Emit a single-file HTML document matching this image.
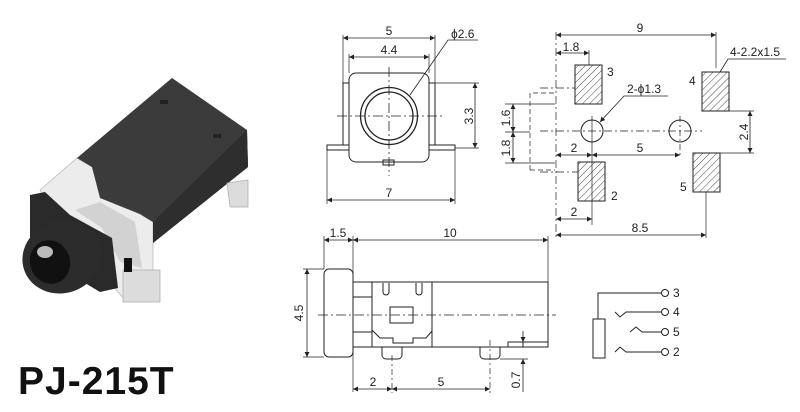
<!DOCTYPE html>
<html><head><meta charset="utf-8"><style>
html,body{margin:0;padding:0;background:#fff;}
svg{display:block;}
text{font-family:"Liberation Sans",Arial,sans-serif;font-size:12px;fill:#222;}
</style></head><body>
<svg width="800" height="412" viewBox="0 0 800 412" xmlns="http://www.w3.org/2000/svg">
<defs>
<marker id="a" viewBox="0 0 10 10" refX="10" refY="5" markerWidth="7" markerHeight="5" orient="auto-start-reverse" markerUnits="userSpaceOnUse"><path d="M0,0 L10,5 L0,10 z" fill="#222"/></marker>
<pattern id="h" width="5" height="5" patternUnits="userSpaceOnUse" patternTransform="rotate(45)"><line x1="0" y1="0" x2="0" y2="5" stroke="#333" stroke-width="0.9"/></pattern>
</defs>

<!-- Photo -->
<g>
<polygon points="40,190 77,158 92,167 102,198 140,214 153,222 153,290 125,300 112,285 60,230" fill="#ececec" stroke="#bbb" stroke-width="0.8"/>
<polygon points="75,210 100,202 135,222 142,268 120,262 102,228" fill="#d2d2d2"/>
<polygon points="77,158 172,78 247,130 248,167 153,243 153,222 140,214 100,198 92,167" fill="#3b3b3b"/>
<polygon points="153,222 247,130 248,167 153,243" fill="#2e2e2e"/>
<polygon points="123,270 160,270 160,302 123,302" fill="#dcdcdc" stroke="#aaa" stroke-width="0.7"/>
<polygon points="227,183 248,180 248,207 230,207" fill="#dcdcdc" stroke="#aaa" stroke-width="0.7"/>
<polygon points="30,195 45,192 70,215 112,238 118,288 100,292 30,250" fill="#2a2a2a"/>
<ellipse cx="62" cy="257" rx="40" ry="36" transform="rotate(-20 62 257)" fill="#2c2c2c"/>
<ellipse cx="50" cy="262" rx="20" ry="22" transform="rotate(-20 50 262)" fill="#111"/>
<ellipse cx="45" cy="252" rx="8" ry="6" fill="#bbb"/>
<rect x="124" y="258" width="8" height="14" fill="#111"/>
<rect x="160" y="100" width="8" height="4" fill="#222"/>
<rect x="213" y="134" width="8" height="4" fill="#222"/>
</g>
<text x="18" y="394" style="font-size:39px;font-weight:bold;fill:#111;letter-spacing:1px">PJ-215T</text>

<g fill="none" stroke="#222" stroke-width="1">
<!-- Front view -->
<rect x="343" y="83" width="6" height="62"/>
<rect x="429" y="83" width="6" height="62"/>
<rect x="327" y="145" width="22" height="5"/>
<rect x="429" y="145" width="26" height="5"/>
<rect x="349" y="73" width="80" height="89" rx="7" fill="#fff"/>
<rect x="383" y="160" width="11" height="5"/>
<circle cx="389" cy="116" r="28.5" stroke-width="1.3"/>
<circle cx="389" cy="116" r="24" stroke-width="1.3"/>
<line x1="337" y1="116" x2="443" y2="116" stroke-dasharray="10,3,2,3" stroke-width="0.8"/>
<line x1="389" y1="67" x2="389" y2="176" stroke-dasharray="10,3,2,3" stroke-width="0.8"/>
<line x1="343" y1="35" x2="343" y2="83" stroke-width="0.7"/>
<line x1="435" y1="35" x2="435" y2="83" stroke-width="0.7"/>
<line x1="349" y1="54" x2="349" y2="73" stroke-width="0.7"/>
<line x1="429" y1="54" x2="429" y2="73" stroke-width="0.7"/>
<line x1="343" y1="38" x2="435" y2="38" marker-start="url(#a)" marker-end="url(#a)" stroke-width="0.8"/>
<line x1="349" y1="57" x2="429" y2="57" marker-start="url(#a)" marker-end="url(#a)" stroke-width="0.8"/>
<polyline points="410,95 448,40 478,40" stroke-width="0.8"/>
<line x1="435" y1="83" x2="479" y2="83" stroke-width="0.7"/>
<line x1="455" y1="148" x2="479" y2="148" stroke-width="0.7"/>
<line x1="475" y1="83" x2="475" y2="148" marker-start="url(#a)" marker-end="url(#a)" stroke-width="0.8"/>
<line x1="327" y1="150" x2="327" y2="204" stroke-width="0.7"/>
<line x1="455" y1="150" x2="455" y2="204" stroke-width="0.7"/>
<line x1="327" y1="200" x2="455" y2="200" marker-start="url(#a)" marker-end="url(#a)" stroke-width="0.8"/>

<!-- Footprint -->
<polyline points="530,170 530,93 555,93" stroke-dasharray="5,3" stroke-width="0.7"/>
<line x1="530" y1="170" x2="555" y2="170" stroke-dasharray="5,3" stroke-width="0.7"/>
<line x1="505" y1="104" x2="555" y2="104" stroke-width="0.7"/>
<line x1="505" y1="132" x2="530" y2="132" stroke-width="0.7"/>
<line x1="505" y1="163" x2="555" y2="163" stroke-width="0.7"/>
<line x1="513" y1="104" x2="513" y2="132" marker-start="url(#a)" marker-end="url(#a)" stroke-width="0.8"/>
<line x1="513" y1="132" x2="513" y2="163" marker-start="url(#a)" marker-end="url(#a)" stroke-width="0.8"/>
<line x1="540" y1="88" x2="575" y2="88" stroke-dasharray="8,3,2,3" stroke-width="0.7"/>
<line x1="540" y1="172" x2="578" y2="172" stroke-dasharray="8,3,2,3" stroke-width="0.7"/>
<line x1="556" y1="32" x2="556" y2="240" stroke-dasharray="8,3,2,3" stroke-width="0.7"/>
<line x1="716" y1="32" x2="716" y2="68" stroke-width="0.7"/>
<line x1="556" y1="35" x2="716" y2="35" marker-start="url(#a)" marker-end="url(#a)" stroke-width="0.8"/>
<line x1="589" y1="50" x2="589" y2="65" stroke-width="0.7"/>
<line x1="556" y1="53" x2="589" y2="53" marker-start="url(#a)" marker-end="url(#a)" stroke-width="0.8"/>
<rect x="575" y="65" width="27" height="39" fill="url(#h)"/>
<rect x="702" y="72" width="27" height="39" fill="url(#h)"/>
<rect x="578" y="162" width="27" height="39" fill="url(#h)"/>
<rect x="693" y="153" width="27" height="39" fill="url(#h)"/>
<polyline points="720,72 728,59 786,59" stroke-width="0.8"/>
<circle cx="592" cy="131" r="11"/>
<circle cx="680" cy="131" r="11"/>
<polyline points="600,122 624,96 668,96" stroke-width="0.8" marker-start="url(#a)"/>
<line x1="540" y1="131" x2="702" y2="131" stroke-dasharray="8,3,2,3" stroke-width="0.7"/>
<line x1="592" y1="116" x2="592" y2="225" stroke-width="0.7"/>
<line x1="680" y1="116" x2="680" y2="158" stroke-dasharray="6,3,2,3" stroke-width="0.7"/>
<line x1="556" y1="155" x2="592" y2="155" marker-start="url(#a)" marker-end="url(#a)" stroke-width="0.8"/>
<line x1="592" y1="155" x2="680" y2="155" marker-start="url(#a)" marker-end="url(#a)" stroke-width="0.8"/>
<line x1="729" y1="111" x2="754" y2="111" stroke-width="0.7"/>
<line x1="720" y1="153" x2="754" y2="153" stroke-width="0.7"/>
<line x1="750" y1="111" x2="750" y2="153" marker-start="url(#a)" marker-end="url(#a)" stroke-width="0.8"/>
<line x1="556" y1="219" x2="592" y2="219" marker-start="url(#a)" marker-end="url(#a)" stroke-width="0.8"/>
<line x1="706" y1="192" x2="706" y2="238" stroke-width="0.7"/>
<line x1="556" y1="235" x2="706" y2="235" marker-start="url(#a)" marker-end="url(#a)" stroke-width="0.8"/>

<!-- Side view -->
<rect x="324" y="269" width="29" height="88" rx="5"/>
<rect x="353" y="282" width="195" height="65"/>
<line x1="372" y1="282" x2="372" y2="347"/>
<line x1="432" y1="282" x2="432" y2="347"/>
<line x1="353" y1="297" x2="372" y2="297"/>
<line x1="353" y1="332" x2="372" y2="332"/>
<rect x="390" y="307" width="23" height="16"/>
<path d="M383,283 V292 a3,3 0 0 0 6,0 V283 M416,283 V292 a3,3 0 0 0 6,0 V283"/>
<polyline points="372,330 380,338 393,338 393,343 413,343 413,338 426,338 432,331"/>
<path d="M382,347 V355 a4,4 0 0 0 4,4 H398 a4,4 0 0 0 4,-4 V347"/>
<path d="M480,347 V355 a4,4 0 0 0 4,4 H496 a4,4 0 0 0 4,-4 V347"/>
<polyline points="508,347 508,342 548,342"/>
<line x1="523" y1="342" x2="523" y2="347"/>
<line x1="318" y1="315" x2="556" y2="315" stroke-dasharray="10,3,2,3" stroke-width="0.7"/>
<line x1="324" y1="236" x2="324" y2="269" stroke-width="0.7"/>
<line x1="353" y1="236" x2="353" y2="392" stroke-width="0.7"/>
<line x1="548" y1="236" x2="548" y2="282" stroke-width="0.7"/>
<line x1="324" y1="240" x2="353" y2="240" marker-start="url(#a)" marker-end="url(#a)" stroke-width="0.8"/>
<line x1="353" y1="240" x2="548" y2="240" marker-start="url(#a)" marker-end="url(#a)" stroke-width="0.8"/>
<line x1="303" y1="269" x2="324" y2="269" stroke-width="0.7"/>
<line x1="303" y1="357" x2="324" y2="357" stroke-width="0.7"/>
<line x1="307" y1="269" x2="307" y2="357" marker-start="url(#a)" marker-end="url(#a)" stroke-width="0.8"/>
<line x1="392" y1="355" x2="392" y2="393" stroke-dasharray="6,3,2,3" stroke-width="0.7"/>
<line x1="490" y1="340" x2="490" y2="393" stroke-dasharray="6,3,2,3" stroke-width="0.7"/>
<line x1="353" y1="389" x2="392" y2="389" marker-start="url(#a)" marker-end="url(#a)" stroke-width="0.8"/>
<line x1="392" y1="389" x2="490" y2="389" marker-start="url(#a)" marker-end="url(#a)" stroke-width="0.8"/>
<line x1="500" y1="359" x2="528" y2="359" stroke-width="0.7"/>
<line x1="523" y1="331" x2="523" y2="342" marker-end="url(#a)" stroke-width="0.8"/>
<line x1="523" y1="392" x2="523" y2="359" marker-end="url(#a)" stroke-width="0.8"/>

<!-- Schematic -->
<polyline points="598,319 598,293 662,293"/>
<rect x="593" y="319" width="12" height="39"/>
<polyline points="615,312 620,317 626,312 662,312"/>
<polyline points="630,332 636,327 642,332 662,332"/>
<polyline points="615,352 620,347 626,352 662,352"/>
<circle cx="665" cy="293" r="3.5"/>
<circle cx="665" cy="312" r="3.5"/>
<circle cx="665" cy="332" r="3.5"/>
<circle cx="665" cy="352" r="3.5"/>
</g>

<!-- labels -->
<text x="389" y="35" text-anchor="middle">5</text>
<text x="389" y="54" text-anchor="middle">4.4</text>
<text x="451" y="38">ϕ2.6</text>
<text transform="translate(473,116) rotate(-90)" text-anchor="middle">3.3</text>
<text x="389" y="197" text-anchor="middle">7</text>
<text transform="translate(510,118) rotate(-90)" text-anchor="middle">1.6</text>
<text transform="translate(510,148) rotate(-90)" text-anchor="middle">1.8</text>
<text x="640" y="32" text-anchor="middle">9</text>
<text x="571" y="51" text-anchor="middle">1.8</text>
<text x="607" y="76">3</text>
<text x="689" y="85">4</text>
<text x="730" y="56">4-2.2x1.5</text>
<text x="627" y="93">2-ϕ1.3</text>
<text x="574" y="152" text-anchor="middle">2</text>
<text x="640" y="152" text-anchor="middle">5</text>
<text transform="translate(748,132) rotate(-90)" text-anchor="middle">2.4</text>
<text x="611" y="200">2</text>
<text x="680" y="191">5</text>
<text x="574" y="216" text-anchor="middle">2</text>
<text x="640" y="232" text-anchor="middle">8.5</text>
<text x="338" y="237" text-anchor="middle">1.5</text>
<text x="450" y="237" text-anchor="middle">10</text>
<text transform="translate(303,313) rotate(-90)" text-anchor="middle">4.5</text>
<text x="373" y="386" text-anchor="middle">2</text>
<text x="441" y="386" text-anchor="middle">5</text>
<text transform="translate(520,380) rotate(-90)" text-anchor="middle">0.7</text>
<text x="673" y="297">3</text>
<text x="673" y="316">4</text>
<text x="673" y="336">5</text>
<text x="673" y="356">2</text>
</svg>
</body></html>
